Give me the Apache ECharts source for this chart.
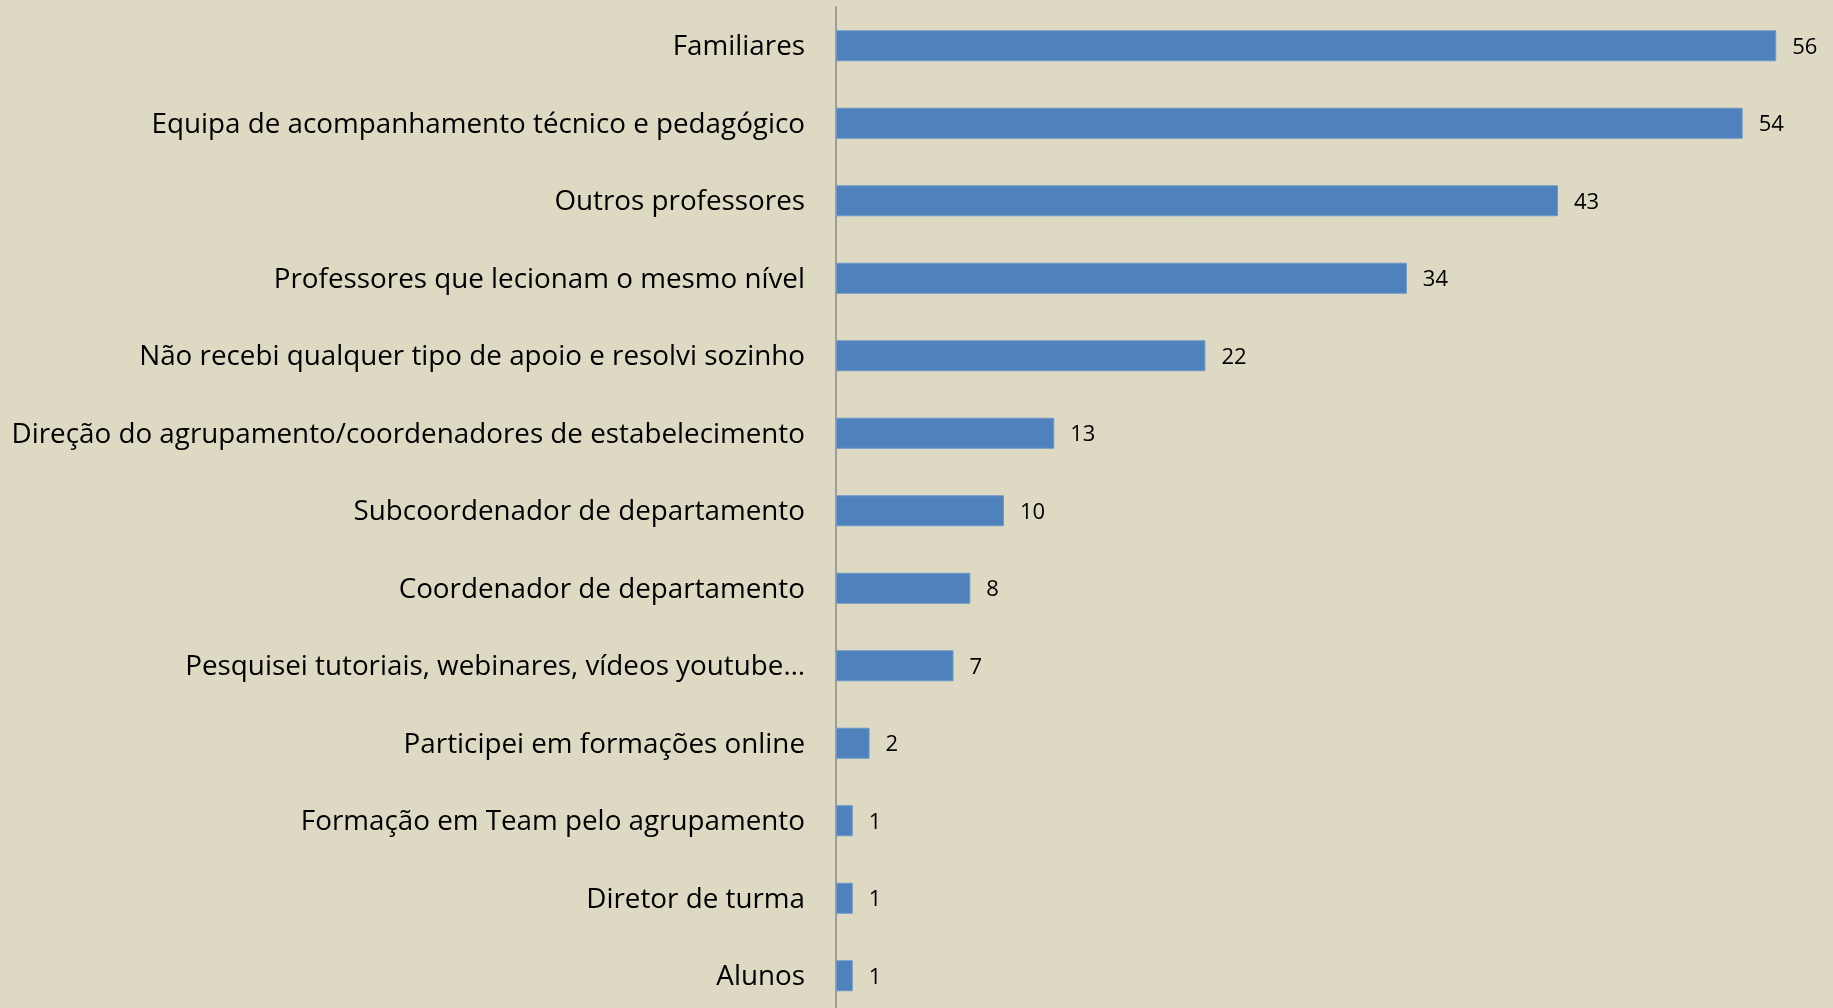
<!DOCTYPE html>
<html>
<head>
<meta charset="utf-8">
<script src="https://cdn.jsdelivr.net/npm/echarts@6/dist/echarts.min.js"></script>
<style>
html,body{margin:0;padding:0;background:#DDD9C3;}
#chart{width:1833px;height:1008px;}
</style>
</head>
<body>
<div id="chart"></div>
<script>
const categories = [
  "Familiares",
  "Equipa de acompanhamento técnico e pedagógico",
  "Outros professores",
  "Professores que lecionam o mesmo nível",
  "Não recebi qualquer tipo de apoio e resolvi sozinho",
  "Direção do agrupamento/coordenadores de estabelecimento",
  "Subcoordenador de departamento",
  "Coordenador de departamento",
  "Pesquisei tutoriais, webinares, vídeos youtube…",
  "Participei em formações online",
  "Formação em Team pelo agrupamento",
  "Diretor de turma",
  "Alunos"
];
const values = [56, 54, 43, 34, 22, 13, 10, 8, 7, 2, 1, 1, 1];

const FONT = "Open Sans";
// fit category font size to the reference's longest label width (~794px)
const cv = document.createElement('canvas').getContext('2d');
cv.font = "26px '" + FONT + "'";
const longest = Math.max(...categories.map(c => cv.measureText(c).width));
const catSize = Math.round(26 * 794 / longest * 10) / 10;

const chart = echarts.init(document.getElementById('chart'));
chart.setOption({
  backgroundColor: '#DDD9C3',
  animation: false,
  grid: { left: 836, top: 7, width: 1007.4, height: 1007.5, containLabel: false, outerBoundsMode: 'none' },
  xAxis: {
    type: 'value', min: 0, max: 60,
    show: false
  },
  yAxis: {
    type: 'category',
    data: categories,
    inverse: true,
    axisLine: { show: true, lineStyle: { color: '#8a8a8a', width: 1.5 } },
    axisTick: { show: false },
    axisLabel: {
      margin: 31,
      formatter: v => '{c|' + v + '}',
      rich: { c: { color: '#000', fontFamily: FONT, fontSize: catSize, padding: [3, 0, 0, 0] } }
    }
  },
  series: [{
    type: 'bar',
    data: values,
    barWidth: 31,
    itemStyle: { color: '#4F81BD', borderColor: '#6f98c9', borderWidth: 1 },
    label: {
      show: true, position: 'right', distance: 16, offset: [0, 1.5],
      color: '#000', fontFamily: FONT, fontSize: 22
    }
  }]
});
</script>
</body>
</html>
